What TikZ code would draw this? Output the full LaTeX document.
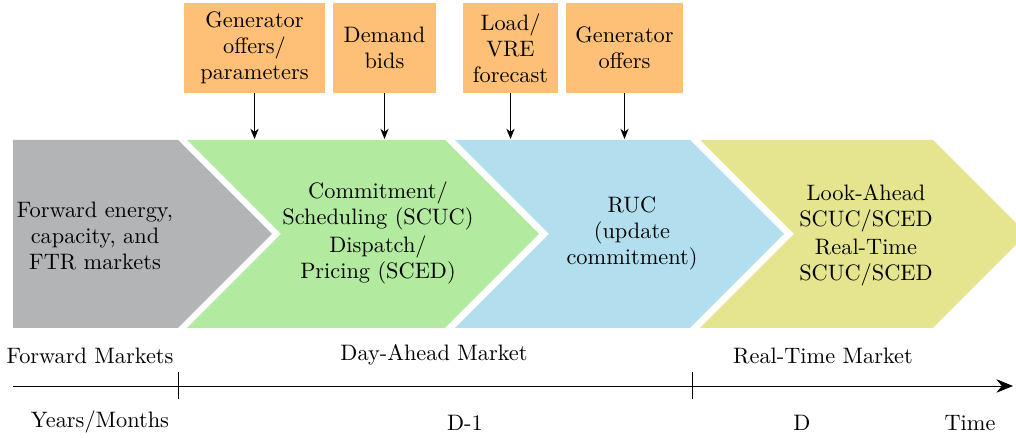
\documentclass[tikz,border=0pt]{standalone}
\usetikzlibrary{arrows.meta}

\definecolor{fwdgray}{RGB}{178,180,182}
\definecolor{dagreen}{RGB}{178,234,160}
\definecolor{rucblue}{RGB}{178,222,238}
\definecolor{rtyellow}{RGB}{229,228,143}
\definecolor{inorange}{RGB}{254,192,118}

\begin{document}
\begin{tikzpicture}[x=0.017cm,y=-0.017cm,font=\fontsize{10.8}{12.6}\selectfont]
\useasboundingbox (0,0) rectangle (1016,438);

      % market stages
      \fill[fwdgray]  (13,140) -- (178,140) -- (272,234) -- (178,328) -- (13,328) -- cycle;
      \fill[dagreen]  (187,140) -- (445,140) -- (539,234) -- (445,328) -- (187,328) -- (281,234) -- cycle;
      \fill[rucblue]  (455,140) -- (690,140) -- (784,234) -- (690,328) -- (455,328) -- (549,234) -- cycle;
      \fill[rtyellow] (700,140) -- (933,140) -- (1027,234) -- (933,328) -- (700,328) -- (794,234) -- cycle;

      \begin{scope}[every node/.style={align=center}]
        \node (fwd) at (95,236)  {Forward energy,\\capacity, and\\FTR markets};
        \node (dam) at (378,233) {Commitment/\\Scheduling (SCUC)\\[1pt]Dispatch/\\Pricing (SCED)};
        \node (ruc) at (632,233) {RUC\\(update\\commitment)};
        \node (rtm) at (866,235) {Look-Ahead\\SCUC/SCED\\[1pt]Real-Time\\SCUC/SCED};
      \end{scope}

      % inputs
      \begin{scope}[every node/.style={fill=inorange,align=center,minimum height=1.53cm,inner sep=2pt}]
        \node[minimum width=2.4cm]  (gen)   at (254.5,48) {Generator\\offers/\\parameters};
        \node[minimum width=1.75cm] (dem)   at (384.5,48) {Demand\\bids};
        \node[minimum width=1.62cm] (load)  at (510.5,48) {Load/\\VRE\\forecast};
        \node[minimum width=2cm]    (genrt) at (624.5,48) {Generator\\offers};
      \end{scope}

      \coordinate (stagetop) at (0,139);

      \begin{scope}[every edge/.style={draw,-{Stealth[length=5pt,width=4pt]}}]
        \path (gen)   edge (gen |- stagetop);
        \path (dem)   edge (dem |- stagetop);
        \path (load)  edge (load |- stagetop);
        \path (genrt) edge (genrt |- stagetop);
      \end{scope}

      % time line
      \coordinate (tstart) at (13,386);
      \coordinate (tend)   at (1013,386);
      \draw[-{Stealth[length=8pt,width=6.5pt]}] (tstart) -- (tend);
      \draw (178,372) -- (178,399);
      \draw (692,372) -- (692,399);

      \node (fm)   at (90,356)  {Forward Markets};
      \node (dm)   at (434,355) {Day-Ahead Market};
      \node (rm)   at (823,356) {Real-Time Market};
      \node (ym)   at (100,422) {Years/Months};
      \node (dm1)  at (465,423) {D-1};
      \node (d)    at (802,423) {D};
      \node (time) at (970,423) {Time};

    \end{tikzpicture}
\end{document}
